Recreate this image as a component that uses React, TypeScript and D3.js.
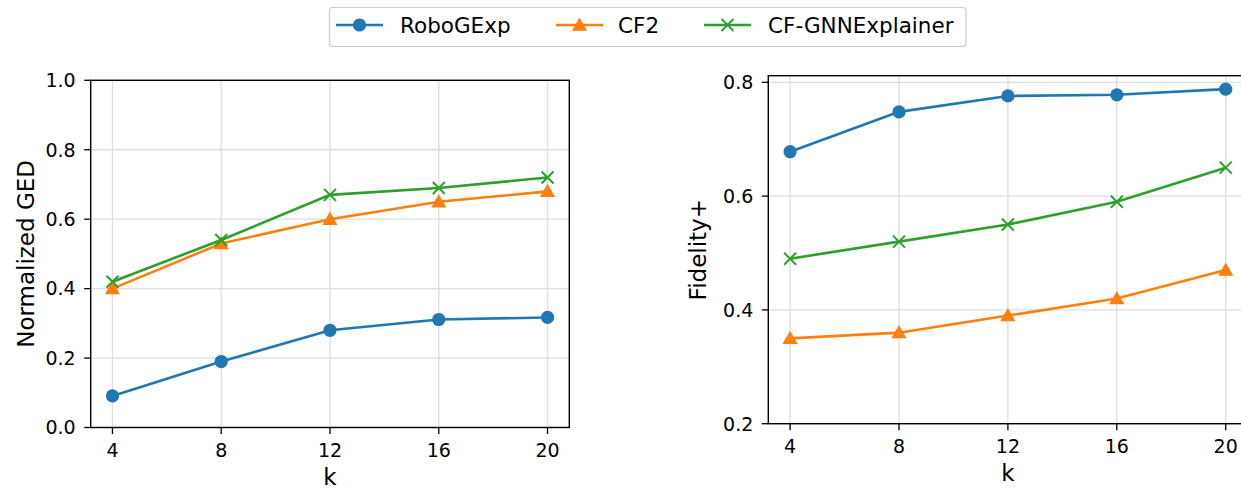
import React from 'react';
import * as d3 from 'd3';

const kValues = [4, 8, 12, 16, 20];
const seriesNames = ['RoboGExp', 'CF2', 'CF-GNNExplainer'];
const seriesColors = ['#1f77b4', '#ff7f0e', '#2ca02c'];
const seriesMarkers = ['circle', 'triangle', 'x'];

// left panel: Normalized GED
const gedRobo = [0.091, 0.19, 0.28, 0.311, 0.317];
const gedCF2 = [0.40, 0.53, 0.60, 0.65, 0.68];
const gedCFGNN = [0.42, 0.54, 0.67, 0.69, 0.72];
const gedTicks = [0.0, 0.2, 0.4, 0.6, 0.8, 1.0];

// right panel: Fidelity+
const fidRobo = [0.678, 0.748, 0.776, 0.778, 0.788];
const fidCF2 = [0.35, 0.36, 0.39, 0.42, 0.47];
const fidCFGNN = [0.49, 0.52, 0.55, 0.59, 0.65];
const fidTicks = [0.2, 0.4, 0.6, 0.8];

const FONT = 'DejaVu Sans';
const GRID = '#dedede';

const Marker: React.FC<{ kind: string; x: number; y: number; color: string }> = ({ kind, x, y, color }) => {
  if (kind === 'circle') return <circle cx={x} cy={y} r={6.6} fill={color} />;
  if (kind === 'triangle') {
    const s = 7.6;
    return (
      <path
        d={`M${x},${y - s} L${x + s},${y + s * 0.75} L${x - s},${y + s * 0.75} Z`}
        fill={color}
      />
    );
  }
  const s = 6;
  return (
    <path
      d={`M${x - s},${y - s} L${x + s},${y + s} M${x - s},${y + s} L${x + s},${y - s}`}
      stroke={color}
      strokeWidth={2}
      fill="none"
    />
  );
};

interface PanelProps {
  left: number;
  right: number;
  top: number;
  bottom: number;
  yDomain: [number, number];
  yTicks: number[];
  series: number[][];
  yLabel: string;
  yLabelX: number;
}

const Panel: React.FC<PanelProps> = ({ left, right, top, bottom, yDomain, yTicks, series, yLabel, yLabelX }) => {
  const x = d3.scaleLinear().domain([3.2, 20.8]).range([left, right]);
  const y = d3.scaleLinear().domain(yDomain).range([bottom, top]);
  const line = d3
    .line<number>()
    .x((_, i) => x(kValues[i]))
    .y(d => y(d));

  return (
    <g>
      {/* grid */}
      {kValues.map(k => (
        <line key={'gx' + k} x1={x(k)} x2={x(k)} y1={top} y2={bottom} stroke={GRID} strokeWidth={1.3} />
      ))}
      {yTicks.map(t => (
        <line key={'gy' + t} x1={left} x2={right} y1={y(t)} y2={y(t)} stroke={GRID} strokeWidth={1.3} />
      ))}

      {/* series */}
      {series.map((vals, si) => (
        <g key={si}>
          <path d={line(vals) || ''} fill="none" stroke={seriesColors[si]} strokeWidth={2.6} />
          {vals.map((v, i) => (
            <Marker key={i} kind={seriesMarkers[si]} x={x(kValues[i])} y={y(v)} color={seriesColors[si]} />
          ))}
        </g>
      ))}

      {/* frame */}
      <rect x={left} y={top} width={right - left} height={bottom - top} fill="none" stroke="#000" strokeWidth={1.4} />

      {/* x ticks */}
      {kValues.map(k => (
        <g key={'tx' + k}>
          <line x1={x(k)} x2={x(k)} y1={bottom} y2={bottom + 6.5} stroke="#000" strokeWidth={1.3} />
          <text x={x(k)} y={bottom + 29.5} textAnchor="middle" fontFamily={FONT} fontSize={19} fill="#000">
            {k}
          </text>
        </g>
      ))}
      {/* y ticks */}
      {yTicks.map(t => (
        <g key={'ty' + t}>
          <line x1={left - 6.5} x2={left} y1={y(t)} y2={y(t)} stroke="#000" strokeWidth={1.3} />
          <text
            x={left - 15}
            y={y(t)}
            dy="0.36em"
            textAnchor="end"
            fontFamily={FONT}
            fontSize={19}
            fill="#000"
          >
            {d3.format('.1f')(t)}
          </text>
        </g>
      ))}

      <text
        x={(left + right) / 2}
        y={bottom + 57}
        textAnchor="middle"
        fontFamily={FONT}
        fontSize={23}
        fill="#000"
      >
        k
      </text>
      <text
        transform={`translate(${yLabelX},${(top + bottom) / 2}) rotate(-90)`}
        textAnchor="middle"
        fontFamily={FONT}
        fontSize={23}
        fill="#000"
      >
        {yLabel}
      </text>
    </g>
  );
};

const legendHandleX = [336, 556, 704];
const legendTextX = [400, 618, 768];

export default function App() {
  return (
    <svg
      width={1241}
      height={489}
      style={{ position: 'absolute', left: 0, top: 0, background: '#fff' }}
    >
      <rect width={1241} height={489} fill="#fff" />
      <Panel
        left={90.7}
        right={569.3}
        top={80.3}
        bottom={427.5}
        yDomain={[0, 1]}
        yTicks={gedTicks}
        series={[gedRobo, gedCF2, gedCFGNN]}
        yLabel="Normalized GED"
        yLabelX={34}
      />
      <Panel
        left={768.3}
        right={1247.5}
        top={75.7}
        bottom={423.7}
        yDomain={[0.2, 0.8116]}
        yTicks={fidTicks}
        series={[fidRobo, fidCF2, fidCFGNN]}
        yLabel="Fidelity+"
        yLabelX={706}
      />

      {/* legend */}
      <rect x={329.5} y={7.5} width={636.5} height={39} rx={3} fill="#fff" stroke="#cccccc" strokeWidth={1.2} />
      {seriesNames.map((name, i) => (
        <g key={name}>
          <line
            x1={legendHandleX[i]}
            x2={legendHandleX[i] + 47}
            y1={25}
            y2={25}
            stroke={seriesColors[i]}
            strokeWidth={2.6}
          />
          <Marker kind={seriesMarkers[i]} x={legendHandleX[i] + 23.5} y={25} color={seriesColors[i]} />
          <text x={legendTextX[i]} y={33} fontFamily={FONT} fontSize={21.5} fill="#000">
            {name}
          </text>
        </g>
      ))}
    </svg>
  );
}
